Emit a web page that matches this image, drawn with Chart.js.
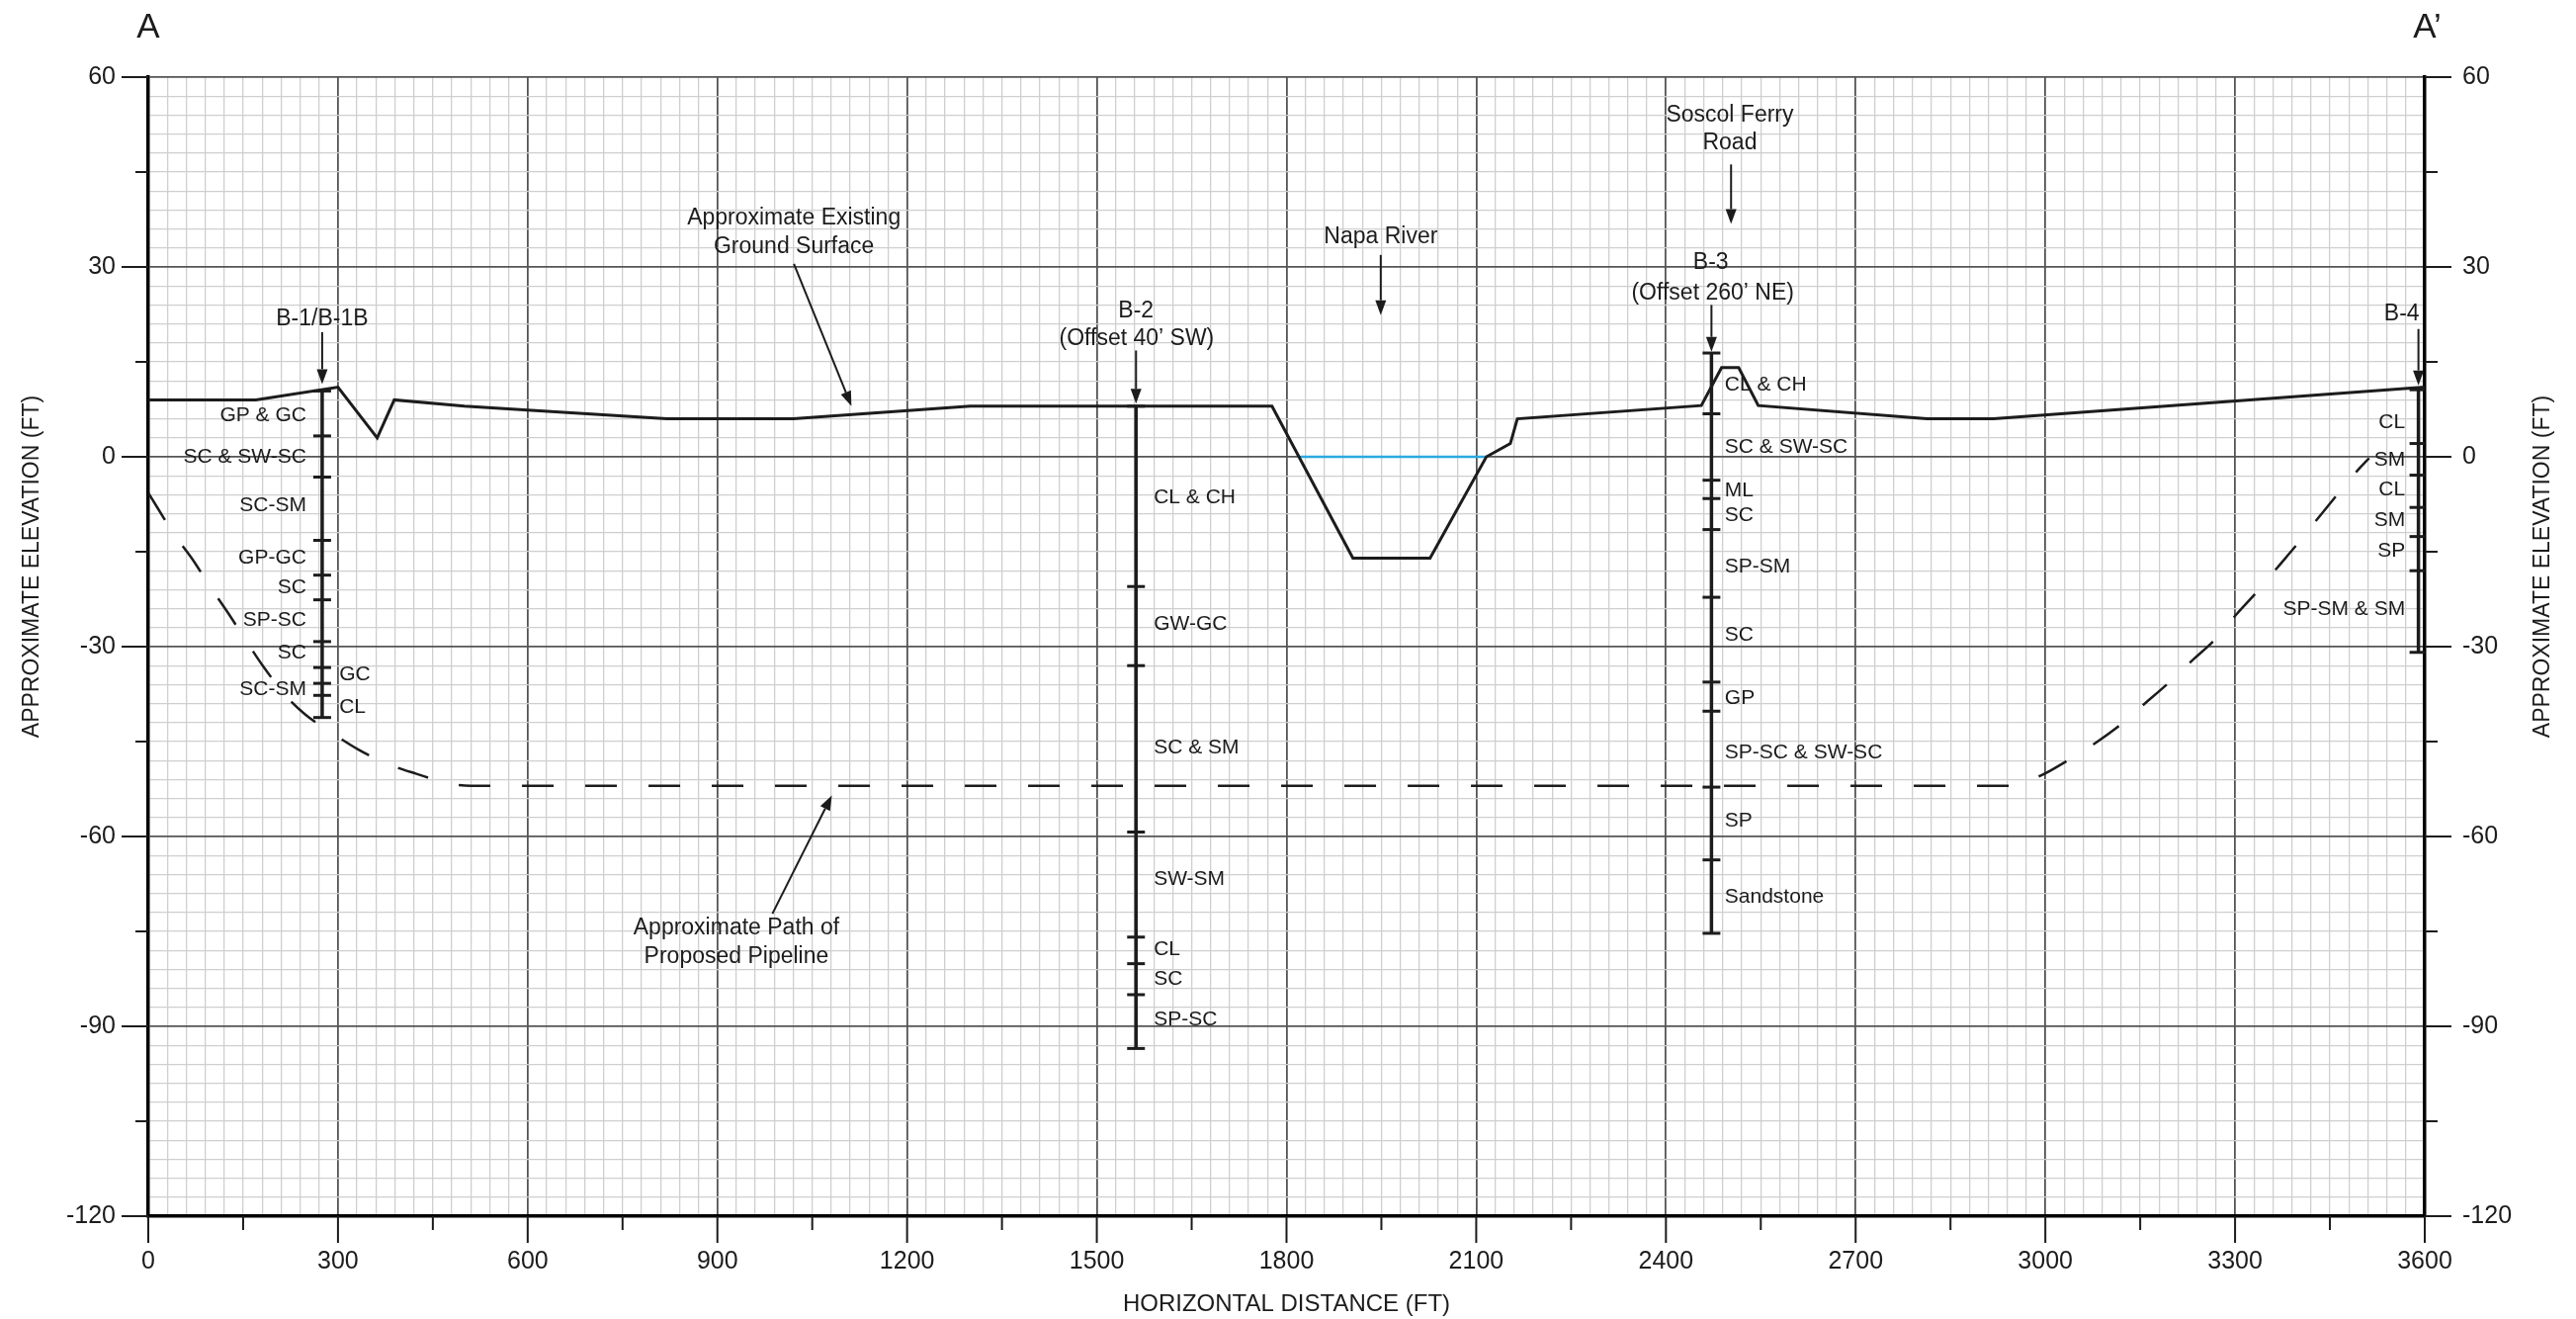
<!DOCTYPE html>
<html>
<head>
<meta charset="utf-8">
<title>Cross Section A–A’</title>
<script src="https://cdn.jsdelivr.net/npm/chart.js@4.4.1/dist/chart.umd.min.js"></script>
<style>
  html, body { margin: 0; padding: 0; background: #fff; }
  #wrap { width: 2606px; height: 1334px; position: relative; }
</style>
</head>
<body>
<div id="wrap"><canvas id="section"></canvas></div>
<script>
// ---------------- Profile data (distance in ft, elevation in ft) ----------------
const groundDist = [0, 170, 300, 362, 389, 500, 600, 820, 1020, 1300, 1777, 1905, 2027, 2116, 2154, 2165, 2456, 2488, 2515, 2546, 2813, 2918, 3600];
const groundElev = [9, 9, 11, 3, 9, 8, 7.4, 6, 6, 8, 8, -16, -16, 0, 2.1, 6, 8.1, 14.1, 14.1, 8.1, 6, 6, 11];

const waterDist = [1822, 2116];
const waterElev = [0, 0];

const pipeDist = [0, 42, 70, 97, 125, 153, 181, 217, 248, 293, 333, 380, 424, 474, 510, 2940, 2992, 3035, 3078, 3118, 3156, 3194, 3232, 3268, 3303, 3335, 3367, 3400, 3432, 3463, 3496, 3512];
const pipeElev = [-5.7, -12.4, -16.2, -20.4, -24.5, -28.8, -33.0, -37.7, -40.7, -43.8, -46.3, -48.6, -50.1, -51.6, -52.0, -52.0, -50.4, -48.0, -45.3, -42.4, -39.1, -35.8, -32.2, -28.9, -24.8, -21.3, -17.5, -13.6, -9.6, -5.8, -1.9, -0.2];

// ---------------- Borings: station and layer boundaries (top to bottom) ----------------
const boringDist = [275, 1562, 2472, 3590];
const b1Bounds = [10.4, 3.3, -3.2, -13.2, -18.7, -22.6, -29.2, -33.3, -35.8, -37.7, -41.2];
const b2Bounds = [8.0, -20.5, -33.0, -59.3, -75.9, -80.1, -85.0, -93.5];
const b3Bounds = [16.4, 6.8, -3.7, -6.6, -11.5, -22.2, -35.6, -40.2, -52.2, -63.7, -75.3];
const b4Bounds = [10.6, 2.1, -2.9, -8.0, -12.6, -18.0, -30.9];

// Soil descriptions and the elevation each one is written at
const b1Soils = ['GP & GC', 'SC & SW-SC', 'SC-SM', 'GP-GC', 'SC', 'SP-SC', 'SC', 'SC-SM'];
const b1SoilElev = [6.5, 0, -7.7, -15.9, -20.6, -25.8, -31.0, -36.7];
const b1SoilsRight = ['GC', 'CL'];
const b1SoilRightElev = [-34.4, -39.5];
const b2Soils = ['CL & CH', 'GW-GC', 'SC & SM', 'SW-SM', 'CL', 'SC', 'SP-SC'];
const b2SoilElev = [-6.4, -26.4, -45.9, -66.8, -77.9, -82.5, -88.9];
const b3Soils = ['CL & CH', 'SC & SW-SC', 'ML', 'SC', 'SP-SM', 'SC', 'GP', 'SP-SC & SW-SC', 'SP', 'Sandstone'];
const b3SoilElev = [11.3, 1.6, -5.3, -9.3, -17.4, -28.2, -38.1, -46.7, -57.6, -69.6];
const b4Soils = ['CL', 'SM', 'CL', 'SM', 'SP', 'SP-SM & SM'];
const b4SoilElev = [5.4, -0.5, -5.2, -10.1, -14.9, -24.1];

// Callout text and leaders
const noteText = ['B-1/B-1B', 'B-2', '(Offset 40’ SW)', 'Napa River', 'Soscol Ferry', 'Road', 'B-3', '(Offset 260’ NE)', 'Approximate Existing', 'Ground Surface', 'Approximate Path of', 'Proposed Pipeline'];
const noteDist = [275, 1562, 1563, 1949, 2501, 2501, 2471, 2474, 1021, 1021, 930, 930];
const noteElev = [21.8, 23.1, 18.6, 34.7, 54.0, 49.6, 30.7, 25.9, 37.7, 33.2, -74.5, -79.0];
const b4Note = 'B-4';
const b4NoteElev = 22.5;

const arrowFromDist = [275, 1562, 1949, 2503, 2472, 3590, 1021, 987];
const arrowFromElev = [19.7, 16.8, 31.9, 46.2, 24.0, 20.2, 30.5, -72.2];
const arrowToDist = [275, 1562, 1949, 2503, 2472, 3590, 1112, 1081];
const arrowToElev = [11.5, 8.4, 22.4, 36.8, 16.6, 11.3, 8.0, -53.5];

// Axis ranges and labels
const distMin = 0, distMax = 3600, distMinorStep = 30, distMajorStep = 300, distMarkStep = 150;
const elevMin = -120, elevMax = 60, elevMinorStep = 3, elevMajorStep = 30, elevMarkStep = 15;
const xTitle = 'HORIZONTAL DISTANCE (FT)';
const yTitle = 'APPROXIMATE ELEVATION (FT)';
const sectionStart = 'A';
const sectionEnd = 'A’';

// ---------------- Styling ----------------
const FONT = '"Liberation Sans", Arial, Helvetica, sans-serif';
const INK = '#1c1c1c';
const pts = (xs, ys) => xs.map((v, i) => ({ x: v, y: ys[i] }));
const boringSet = (dist, bounds) => ({
  data: bounds.map(b => ({ x: dist, y: b })),
  showLine: true,
  borderColor: INK,
  borderWidth: 3.5,
  pointStyle: 'line',
  pointRadius: 9,
  pointBorderWidth: 3,
  pointBorderColor: INK,
  pointBackgroundColor: INK,
  order: 1
});

// Tick marks, callouts, soil labels and section letters
const sectionDecor = {
  id: 'sectionDecor',
  afterDraw(chart) {
    const { ctx, chartArea: a, scales: { x, y } } = chart;
    const X = v => x.getPixelForValue(v);
    const Y = v => y.getPixelForValue(v);
    ctx.save();

    // axis tick marks outside the frame
    ctx.strokeStyle = INK;
    ctx.lineWidth = 2;
    ctx.beginPath();
    for (let v = elevMin; v <= elevMax; v += elevMarkStep) {
      const py = Math.round(Y(v));
      const len = v % elevMajorStep === 0 ? 27 : 13;
      ctx.moveTo(a.left - len, py); ctx.lineTo(a.left, py);
      ctx.moveTo(a.right, py); ctx.lineTo(a.right + len, py);
    }
    for (let v = distMin; v <= distMax; v += distMarkStep) {
      const px = X(v);
      const len = v % distMajorStep === 0 ? 27 : 14;
      ctx.moveTo(px, a.bottom); ctx.lineTo(px, a.bottom + len);
    }
    ctx.stroke();

    // leaders with arrowheads
    ctx.fillStyle = INK;
    ctx.lineWidth = 2;
    for (let i = 0; i < arrowFromDist.length; i++) {
      const x0 = X(arrowFromDist[i]), y0 = Y(arrowFromElev[i]);
      const x1 = X(arrowToDist[i]), y1 = Y(arrowToElev[i]);
      const ang = Math.atan2(y1 - y0, x1 - x0);
      const hl = 15, hw = 5.5;
      const bx = x1 - hl * Math.cos(ang), by = y1 - hl * Math.sin(ang);
      ctx.beginPath();
      ctx.moveTo(x0, y0); ctx.lineTo(bx, by);
      ctx.stroke();
      ctx.beginPath();
      ctx.moveTo(x1, y1);
      ctx.lineTo(bx + hw * Math.sin(ang), by - hw * Math.cos(ang));
      ctx.lineTo(bx - hw * Math.sin(ang), by + hw * Math.cos(ang));
      ctx.closePath();
      ctx.fill();
    }

    const text = (s, px, py, align, size) => {
      ctx.font = size + 'px ' + FONT;
      ctx.textAlign = align;
      ctx.textBaseline = 'middle';
      ctx.fillText(s, px, py);
    };

    // callouts
    ctx.fillStyle = INK;
    noteText.forEach((s, i) => text(s, X(noteDist[i]), Y(noteElev[i]), 'center', 23));
    text(b4Note, X(boringDist[3]) + 1, Y(b4NoteElev), 'right', 23);

    // soil descriptions beside each boring
    const soilGap = 25;   // ft between boring and its text
    b1Soils.forEach((s, i) => text(s, X(boringDist[0] - soilGap), Y(b1SoilElev[i]), 'right', 21));
    b1SoilsRight.forEach((s, i) => text(s, X(boringDist[0] + 27), Y(b1SoilRightElev[i]), 'left', 21));
    b2Soils.forEach((s, i) => text(s, X(boringDist[1] + 28), Y(b2SoilElev[i]), 'left', 21));
    b3Soils.forEach((s, i) => text(s, X(boringDist[2] + 21), Y(b3SoilElev[i]), 'left', 21));
    b4Soils.forEach((s, i) => text(s, X(boringDist[3] - 21), Y(b4SoilElev[i]), 'right', 21));

    // section letters
    ctx.font = '35px ' + FONT;
    const halfA = ctx.measureText('A').width / 2;
    text(sectionStart, X(distMin), 28, 'center', 35);
    text(sectionEnd, X(distMax) - halfA, 28, 'left', 35);

    // vertical axis titles, both reading bottom to top
    const ty = 573;
    [33, chart.width - 33].forEach(tx => {
      ctx.save();
      ctx.translate(tx, ty); ctx.rotate(-Math.PI / 2);
      text(yTitle, 0, 0, 'center', 23);
      ctx.restore();
    });

    ctx.restore();
  }
};

const majorGrid = (step) => (c) => (c.tick && Math.abs(c.tick.value % step) < 1e-6) ? '#555555' : '#cfcfcf';
const majorWidth = (step) => (c) => (c.tick && Math.abs(c.tick.value % step) < 1e-6) ? 1.8 : 1.3;
const tickFont = { family: FONT, size: 25, lineHeight: 1 };

new Chart(document.getElementById('section'), {
  type: 'scatter',
  data: {
    datasets: [
      { label: 'Ground', data: pts(groundDist, groundElev), showLine: true, borderColor: INK, borderWidth: 3, pointRadius: 0, order: 2 },
      { label: 'Water', data: pts(waterDist, waterElev), showLine: true, borderColor: '#2aa9e0', borderWidth: 2.5, pointRadius: 0, order: 3 },
      { label: 'Pipeline', data: pts(pipeDist, pipeElev), showLine: true, borderColor: INK, borderWidth: 2.5, borderDash: [32, 32], cubicInterpolationMode: 'monotone', pointRadius: 0, order: 3 },
      boringSet(boringDist[0], b1Bounds),
      boringSet(boringDist[1], b2Bounds),
      boringSet(boringDist[2], b3Bounds),
      boringSet(boringDist[3], b4Bounds)
    ]
  },
  options: {
    responsive: true,
    maintainAspectRatio: false,
    animation: false,
    events: [],
    layout: { padding: { top: 78, left: 0, right: 0, bottom: 0 } },
    plugins: { legend: { display: false }, tooltip: { enabled: false } },
    scales: {
      x: {
        type: 'linear', position: 'bottom', min: distMin, max: distMax,
        afterFit: s => { s.height = 104; },
        ticks: { stepSize: distMinorStep, autoSkip: false, maxRotation: 0, padding: 34, color: INK, font: tickFont,
                 callback: v => (v % distMajorStep === 0 ? String(v) : '') },
        grid: { color: majorGrid(distMajorStep), lineWidth: majorWidth(distMajorStep), drawTicks: false },
        border: { display: true, color: '#000', width: 3.5 },
        title: { display: true, text: xTitle, color: INK, font: { family: FONT, size: 24, lineHeight: 1 }, padding: { top: 0, bottom: 3 } }
      },
      y: {
        type: 'linear', position: 'left', min: elevMin, max: elevMax,
        afterFit: s => { s.width = 150; },
        ticks: { stepSize: elevMinorStep, autoSkip: false, padding: 33, color: INK, font: tickFont,
                 callback: v => (v % elevMajorStep === 0 ? String(v) : '') },
        grid: { color: majorGrid(elevMajorStep), lineWidth: majorWidth(elevMajorStep), drawTicks: false },
        border: { display: true, color: '#000', width: 3.5 }
      },
      y2: {
        type: 'linear', position: 'right', min: elevMin, max: elevMax,
        afterFit: s => { s.width = 153; },
        ticks: { stepSize: elevMinorStep, autoSkip: false, padding: 38, color: INK, font: tickFont,
                 callback: v => (v % elevMajorStep === 0 ? String(v) : '') },
        grid: { display: false, drawTicks: false },
        border: { display: true, color: '#000', width: 3.5 }
      }
    }
  },
  plugins: [sectionDecor]
});
</script>
</body>
</html>
